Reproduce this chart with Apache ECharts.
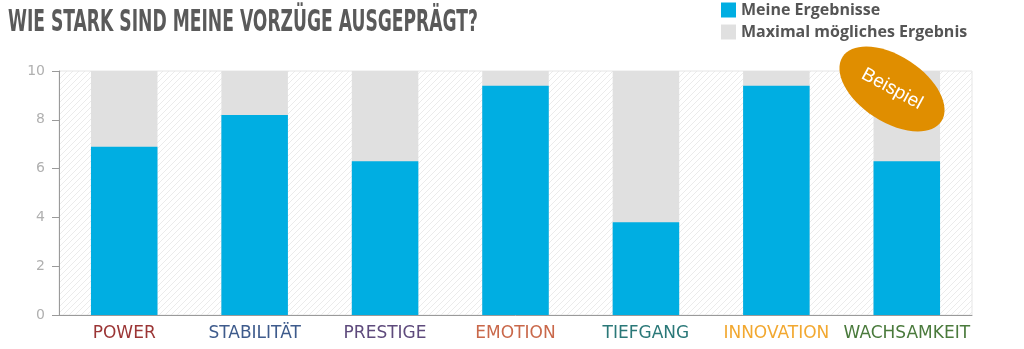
<!DOCTYPE html>
<html><head><meta charset="utf-8">
<script src="https://cdn.jsdelivr.net/npm/echarts@6/dist/echarts.min.js"></script>
<style>html,body{margin:0;padding:0;background:#fff}#c{width:1024px;height:349px}</style>
</head><body><div id="c"></div>
<script>
const categories = ['POWER','STABILITÄT','PRESTIGE','EMOTION','TIEFGANG','INNOVATION','WACHSAMKEIT'];
const labelColors = ['#9b3535','#3e5b8c','#5e4a7c','#c9684a','#2a7878','#f2a830','#4a7a3c'];
const myResults = [6.9, 8.2, 6.3, 9.4, 3.8, 9.4, 6.3];
const maxResults = [10, 10, 10, 10, 10, 10, 10];
const yTicks = [0, 2, 4, 6, 8, 10];
const titleText = 'WIE STARK SIND MEINE VORZÜGE AUSGEPRÄGT?';
const legendNames = ['Meine Ergebnisse', 'Maximal mögliches Ergebnis'];
const badgeText = 'Beispiel';

// hatch pattern
const pc = document.createElement('canvas');
pc.width = 6; pc.height = 6;
const pctx = pc.getContext('2d');
pctx.fillStyle = '#ffffff'; pctx.fillRect(0,0,6,6);
pctx.strokeStyle = '#ebebeb'; pctx.lineWidth = 1;
pctx.beginPath();
pctx.moveTo(-1,7); pctx.lineTo(7,-1);
pctx.moveTo(5,7); pctx.lineTo(7,5);
pctx.moveTo(-1,1); pctx.lineTo(1,-1);
pctx.stroke();

// title width fit
const titleFont = 'bold 31px "Liberation Sans Narrow", "DejaVu Sans Condensed", sans-serif';
const mc = document.createElement('canvas').getContext('2d');
mc.font = titleFont;
const tw = mc.measureText(titleText).width;
const titleScale = 470 / tw;

const richLabels = {};
labelColors.forEach((c, i) => { richLabels['c' + i] = { color: c, fontSize: 17, fontFamily: 'DejaVu Sans' }; });

const chart = echarts.init(document.getElementById('c'), null, { renderer: 'canvas' });
chart.setOption({
  animation: false,
  grid: { left: 59, right: 52, top: 71, bottom: 34, show: true,
    backgroundColor: { image: pc, repeat: 'repeat' }, borderColor: '#e6e6e6', borderWidth: 1 },
  legend: {
    data: legendNames, orient: 'vertical', left: 716, top: -3,
    itemWidth: 15, itemHeight: 15, itemGap: 6, icon: 'rect',
    textStyle: { fontSize: 16, fontWeight: 'bold', color: '#555', fontFamily: 'Open Sans', padding: [0,0,0,0] }
  },
  xAxis: {
    type: 'category', data: categories,
    axisLine: { lineStyle: { color: '#9a9a9a', width: 1 } },
    axisTick: { alignWithLabel: true, length: 7, lineStyle: { color: '#9a9a9a' } },
    axisLabel: { margin: 10, interval: 0, rich: richLabels,
      formatter: (v, i) => '{c' + i + '|' + v + '}' }
  },
  yAxis: {
    type: 'value', min: 0, max: 10, interval: 2,
    axisLine: { show: true, lineStyle: { color: '#9a9a9a', width: 1 } },
    axisTick: { show: true, length: 7, lineStyle: { color: '#9a9a9a' } },
    splitLine: { show: false },
    axisLabel: { margin: 14, color: '#b0b0b0', fontSize: 14, fontFamily: 'DejaVu Sans',
      formatter: v => yTicks.includes(v) ? String(v) : '' }
  },
  series: [
    { name: legendNames[1], type: 'bar', data: maxResults, barWidth: '51%', barGap: '-100%',
      itemStyle: { color: '#e0e0e0' }, z: 2 },
    { name: legendNames[0], type: 'bar', data: myResults, barWidth: '51%',
      itemStyle: { color: '#00aee2' }, z: 3 }
  ],
  graphic: [
    { type: 'text', left: 8, top: 7, scaleX: titleScale, originX: 0,
      style: { text: titleText, font: titleFont, fill: '#5a5a5a' } },
    { type: 'ellipse', x: 892, y: 89, rotation: -0.58, z: 100,
      shape: { cx: 0, cy: 0, rx: 59, ry: 33 }, style: { fill: '#e08e00' } },
    { type: 'text', x: 892, y: 89, rotation: -0.5, z: 101,
      style: { text: badgeText, fill: '#ffffff', fontSize: 19, fontFamily: 'Liberation Sans',
        align: 'center', verticalAlign: 'middle' } }
  ]
});
</script></body></html>
